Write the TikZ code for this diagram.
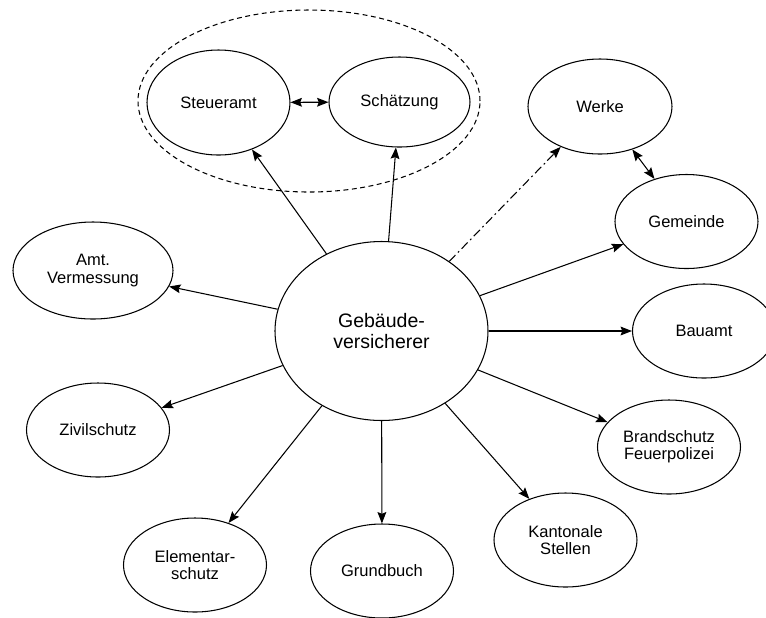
\documentclass[tikz,border=0pt]{standalone}
\usepackage{fontspec}
\setmainfont{Liberation Sans}
\usepackage{xcolor,tikz}
\usetikzlibrary{shapes.geometric,arrows.meta}
\tikzset{>={Stealth[length=6.5pt,width=5pt,inset=1pt]}}
\tikzset{
  amtnode/.style={ellipse,draw,line width=0.6pt,inner sep=0pt,align=center,
    minimum width=2.86cm,minimum height=1.88cm,font=\fontsize{9.4}{9.9}\selectfont},
  hubnode/.style={amtnode,minimum width=4.26cm,minimum height=3.58cm,
    font=\fontsize{11.1}{11.6}\selectfont},
  link/.style={->,line width=0.6pt},
}

\begin{document}
\begin{tikzpicture}
\useasboundingbox (0,0) rectangle (15.32,-12.34);
% hub
\node[hubnode] (geb) at (7.63,-6.62) {Geb\"aude-\\versicherer};
% grouped offices
\node[draw,ellipse,line width=0.6pt,dash pattern=on 2.8pt off 2pt,
  minimum width=6.84cm,minimum height=3.64cm] (group) at (6.18,-2.02) {};
\node[amtnode,minimum height=2.1cm] (steuer) at (4.37,-2.05) {Steueramt};
\node[amtnode,minimum width=2.82cm,minimum height=1.8cm] (schaetz) at (7.99,-2.04) {Sch\"atzung};
% others
\node[amtnode,minimum width=2.88cm,minimum height=1.9cm] (werke) at (12.00,-2.13) {Werke};
\node[amtnode] (gemeinde) at (13.73,-4.43) {Gemeinde};
\node[amtnode] (bauamt) at (14.08,-6.62) {Bauamt};
\node[amtnode] (brand) at (13.38,-8.94) {Brandschutz\\Feuerpolizei};
\node[amtnode] (kanton) at (11.31,-10.80) {Kantonale\\Stellen};
\node[amtnode] (grund) at (7.64,-11.42) {Grundbuch};
\node[amtnode] (element) at (3.90,-11.30) {Elementar-\\schutz};
\node[amtnode] (zivil) at (1.96,-8.60) {Zivilschutz};
\node[amtnode,minimum width=3.2cm,minimum height=1.94cm] (amt) at (1.86,-5.41) {Amt.\\Vermessung};
% connectors
\draw[link,<->] (steuer) -- (schaetz);
\draw[link,<->] (werke) -- (gemeinde);
\draw[link,dash pattern=on 5pt off 2pt on 1pt off 2pt] (geb) -- (werke);
\foreach \t in {steuer,schaetz,gemeinde,bauamt,brand,kanton,grund,element,zivil,amt}
  \draw[link] (geb) -- (\t);
\end{tikzpicture}
\end{document}
